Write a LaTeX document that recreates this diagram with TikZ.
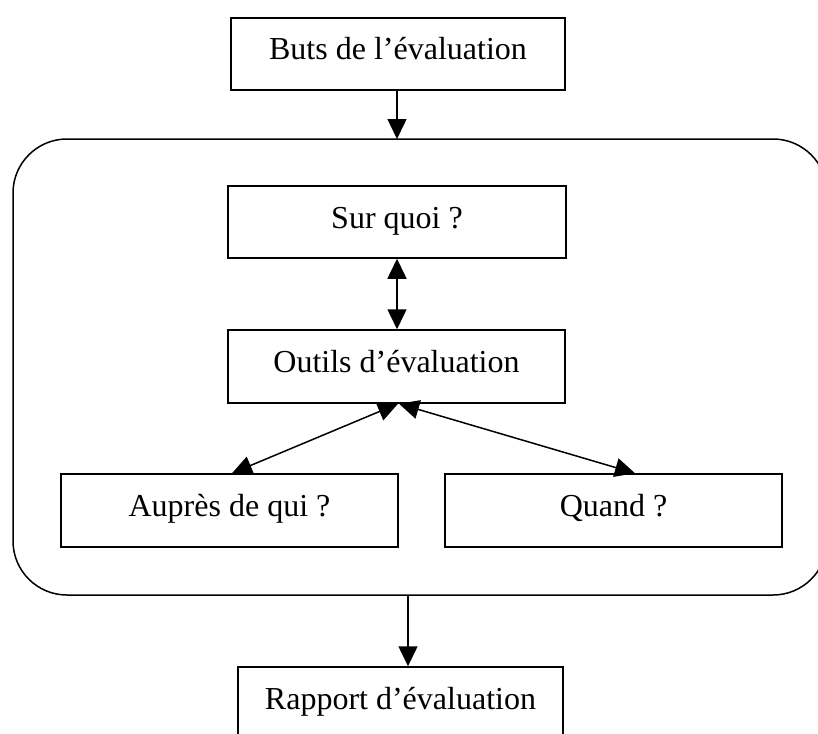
\documentclass[tikz,border=0pt]{standalone}
\usepackage{fontspec}
\setmainfont{Liberation Serif}
\usetikzlibrary{arrows.meta}
\tikzset{
  boxnode/.style={draw, line width=1.5pt, rectangle, inner sep=0pt,
    text height=22pt, text depth=10pt,
    font=\fontsize{32}{38}\selectfont},
  tip/.style={Triangle[length=20pt,width=19pt]},
  conn/.style={line width=1.5pt, -{Triangle[length=20pt,width=19pt]}},
  biconn/.style={line width=1.5pt, {Triangle[length=20pt,width=19pt]}-{Triangle[length=20pt,width=19pt]}},
  frame/.style={draw, line width=1.5pt, rounded corners=54pt}
}
\begin{document}
\begin{tikzpicture}[x=1pt,y=-1pt]
\clip (0,0) rectangle (818,733);
\fill[white] (0,0) rectangle (818,733);
\draw[frame] (13,139) rectangle (827,595);
\coordinate (ftop) at (397,139);
\coordinate (fbot) at (408,595);
\node[boxnode, minimum width=334pt, minimum height=72pt] (buts) at (398,54) {Buts de l’évaluation};
\node[boxnode, minimum width=338pt, minimum height=72pt] (sur) at (397,222) {Sur quoi ?};
\node[boxnode, minimum width=337pt, minimum height=73pt] (outils) at (396.5,366.5) {Outils d’évaluation};
\node[boxnode, minimum width=337pt, minimum height=73pt] (aupres) at (229.5,510.5) {Auprès de qui ?};
\node[boxnode, minimum width=337pt, minimum height=73pt] (quand) at (613.5,510.5) {Quand ?};
\node[boxnode, minimum width=325pt, minimum height=73pt] (rapport) at (400.5,703.5) {Rapport d’évaluation};
\draw[conn] (buts.south -| ftop) -- (ftop);
\draw[biconn] (sur.south -| 397,0) -- (outils.north -| 397,0);
\draw[biconn] (outils.south -| 398,0) -- (aupres.north -| 232,0);
\draw[biconn] (outils.south -| 399,0) -- (quand.north -| 635,0);
\draw[conn] (fbot) -- (rapport.north -| fbot);
\end{tikzpicture}
\end{document}
